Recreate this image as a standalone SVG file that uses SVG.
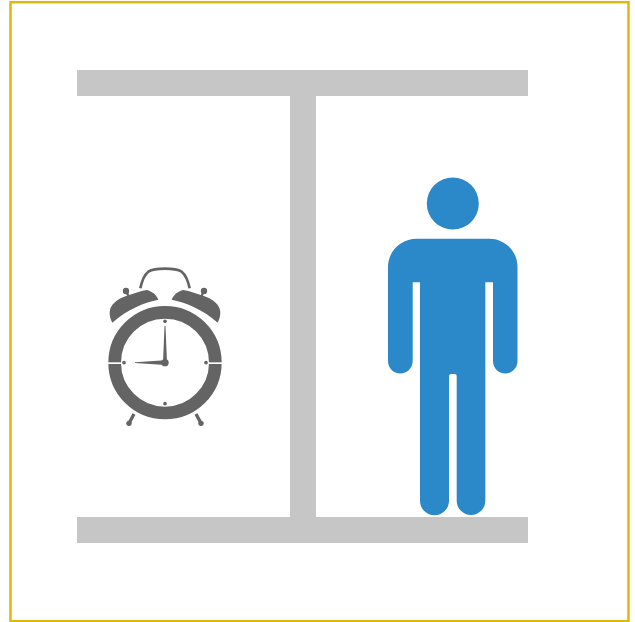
<svg xmlns="http://www.w3.org/2000/svg" width="635" height="622" viewBox="0 0 635 622">
<style>
.bar{fill:#c6c6c6}
.clk{fill:#646464}
.person{fill:#2b88c9}
</style>
<rect width="635" height="622" fill="#fff"/>
<g id="frame"><rect x="10.5" y="2.2" width="618" height="619" fill="none" stroke="#dfb80f" stroke-width="2.5"/></g>
<g id="wall">
<rect class="bar" x="77" y="70" width="451" height="26"/>
<rect class="bar" x="290" y="96" width="26" height="421"/>
<rect class="bar" x="77" y="517" width="451" height="26"/>
</g>
<g id="clock" transform="translate(95 255) scale(.33333)">
<circle cx="210" cy="323" r="151" fill="none" stroke="#646464" stroke-width="38"/>
<rect x="36" y="322" width="46" height="5" fill="#fff"/>
<rect x="338" y="322" width="46" height="5" fill="#fff"/>
<path class="clk" d="M52 203C40 180 41 158 58 143C70 132 82 127 100 121C115 116 135 108 155 105C172 109 185 120 190 134C150 142 97 162 52 203Z"/>
<path class="clk" d="M368 203C380 180 379 158 362 143C350 132 338 127 320 121C305 116 285 108 265 105C248 109 235 120 230 134C270 142 323 162 368 203Z"/>
<path d="M136 100C140 80 145 62 160 50C180 38 240 38 260 50C275 62 280 80 284 100" fill="none" stroke="#646464" stroke-width="8"/>
<path d="M93 108L103 128M327 108L317 128" stroke="#646464" stroke-width="7" fill="none"/>
<circle class="clk" cx="93" cy="108" r="9.500"/>
<circle class="clk" cx="327" cy="108" r="9.500"/>
<path d="M117 477L102 505M303 477L318 505" stroke="#646464" stroke-width="10" fill="none"/>
<circle class="clk" cx="102" cy="505" r="8"/>
<circle class="clk" cx="318" cy="505" r="8"/>
<circle class="clk" cx="210" cy="199" r="5.500"/>
<circle class="clk" cx="210" cy="446" r="5.500"/>
<circle class="clk" cx="87" cy="323" r="5.500"/>
<circle class="clk" cx="333" cy="323" r="5.500"/>
<path class="clk" d="M208.500 213L211.500 213L216 323L204 323Z"/>
<path class="clk" d="M120 321.500L210 316L210 330L120 324Z"/>
<circle class="clk" cx="210" cy="323" r="11"/>
</g>
<g id="person">
<circle class="person" cx="452.800" cy="203.500" r="26"/>
<path class="person" d="M417 238.700L489 238.700C505 238.700 517.500 251 517.500 267L517.500 361C517.500 368 512 373.500 505.200 373.500C498.500 373.500 493 368 493 361L493 282.300L485.300 282.300L485.300 500.700A14.300 14.300 0 0 1 456.700 500.700L456.700 376Q456.700 374 454.500 374L451.200 374Q449 374 449 376L449 500.700A14.500 14.500 0 0 1 420 500.700L420 282.300L412.700 282.300L412.700 361C412.700 368 407 373.500 400.300 373.500C393.500 373.500 388 368 388 361L388 267C388 251 401 238.700 417 238.700Z"/>
</g>
</svg>
